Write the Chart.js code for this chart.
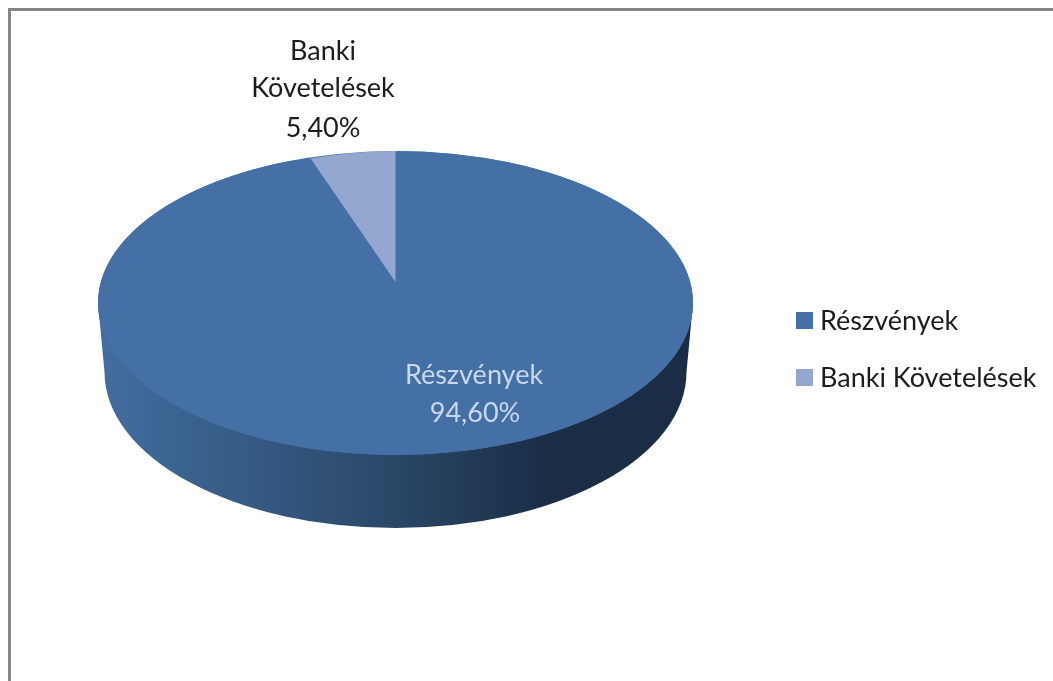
<!DOCTYPE html>
<html lang="hu">
  <head>
    <meta charset="UTF-8" />
    <title>Részvények / Banki Követelések</title>
    <script src="https://cdnjs.cloudflare.com/ajax/libs/Chart.js/4.4.1/chart.umd.min.js"></script>
    <style>
      html, body { margin: 0; padding: 0; background: #fff; overflow: hidden; }
      #frame {
        position: absolute; left: 8px; top: 8px; width: 1045px; height: 673px;
        border-left: 3px solid #868686; border-top: 3px solid #868686; box-sizing: border-box;
      }
      #wrap { position: absolute; left: 0; top: 0; width: 1053px; height: 681px; }
    </style>
  </head>
  <body>
    <div id="frame"></div>
    <div id="wrap"><canvas id="pie" width="1053" height="681"></canvas></div>
    <script>
      const categories = ["Részvények", "Banki Követelések"];
      const shares = [94.6, 5.4];
      const shareLabels = ["94,60%", "5,40%"];
      const colors = ["#4470a6", "#93a7cf"];

      const FONT = '27px Lato, "Open Sans", sans-serif';

      // fake 3D: top face ellipse and the lower rim of the wall
      const top3d = { x: 395.5, y: 303, rx: 297.5, ry: 152 };
      const rim = { y: 372, rx: 291, ry: 156 };
      // the small slice looks narrower because of the perspective, its tip sits higher
      const wedge = { x: 395.5, y: 282, rx: 255, ry: 131 };

      const pie3d = {
        id: "pie3d",
        beforeDatasetsDraw(chart) {
          const c = chart.ctx;
          const t = top3d;
          c.save();
          const g = c.createLinearGradient(t.x - rim.rx, 0, t.x + rim.rx, 0);
          g.addColorStop(0, "#416d9f");
          g.addColorStop(0.5, "#2a4767");
          g.addColorStop(0.76, "#1a2d45");
          g.addColorStop(1, "#1a2d45");
          c.fillStyle = g;
          c.beginPath();
          c.moveTo(t.x - t.rx, t.y);
          c.lineTo(t.x - rim.rx, rim.y);
          c.ellipse(t.x, rim.y, rim.rx, rim.ry, 0, Math.PI, 0, true);
          c.lineTo(t.x + t.rx, t.y);
          c.closePath();
          c.fill();
          c.fillStyle = colors[0];
          c.beginPath();
          c.ellipse(t.x, t.y, t.rx, t.ry, 0, 0, Math.PI * 2);
          c.fill();
          c.restore();

          chart.getDatasetMeta(0).data.forEach((arc, i) => {
            const box = i === 0 ? t : wedge;
            c.save();
            c.translate(box.x, box.y);
            c.scale(box.rx / arc.outerRadius, box.ry / arc.outerRadius);
            c.translate(-arc.x, -arc.y);
            arc.draw(c);
            c.restore();
          });
          return false;
        },
        afterDraw(chart) {
          const c = chart.ctx;
          c.save();
          c.font = FONT;
          c.textBaseline = "alphabetic";

          // data labels
          c.textAlign = "center";
          c.fillStyle = "#c9d8ec";
          c.fillText(categories[0], 474, 384);
          c.fillText(shareLabels[0], 475, 422);
          c.fillStyle = "#1c1c1c";
          c.fillText("Banki", 323, 60);
          c.fillText("Követelések", 323, 97);
          c.fillText(shareLabels[1], 323, 137);

          // legend
          c.textAlign = "left";
          categories.forEach((name, i) => {
            const y = 312 + i * 57;
            c.fillStyle = colors[i];
            c.fillRect(796, y, 17, 17);
            c.fillStyle = "#1c1c1c";
            c.fillText(name, 820, y + 18);
          });
          c.restore();
        },
      };

      new Chart(document.getElementById("pie"), {
        type: "pie",
        data: {
          labels: categories,
          datasets: [{ data: shares, backgroundColor: colors, borderWidth: 0 }],
        },
        options: {
          responsive: false,
          animation: false,
          plugins: { legend: { display: false }, tooltip: { enabled: false } },
        },
        plugins: [pie3d],
      });
    </script>
  </body>
</html>
